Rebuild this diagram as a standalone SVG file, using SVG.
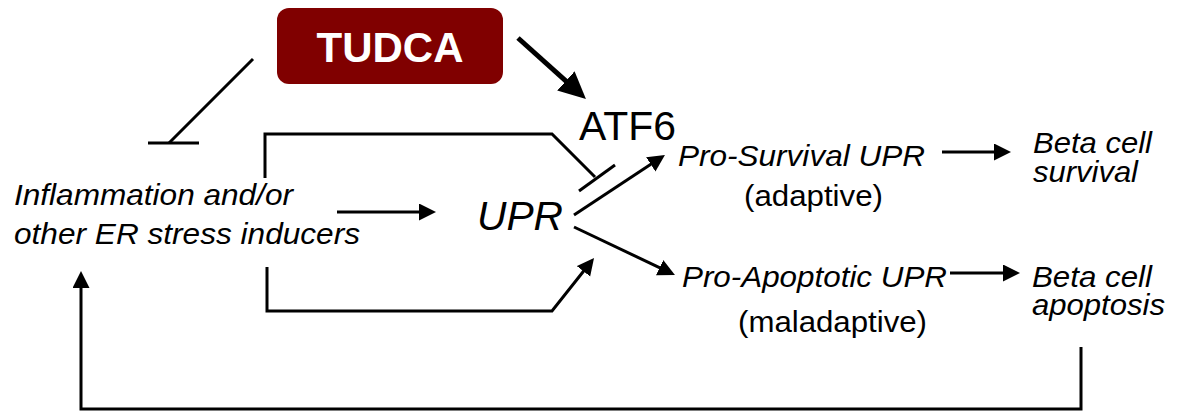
<svg xmlns="http://www.w3.org/2000/svg" width="1183" height="414" viewBox="0 0 1183 414">
<style>
text{font-family:"Liberation Sans",Arial,sans-serif;fill:#000}
.it{font-style:italic;font-size:29px}
.rg{font-size:29px}
.big{font-size:40px}
.ln{fill:none;stroke:#000;stroke-width:3;stroke-linejoin:miter}
.arr{marker-end:url(#ah)}
</style>
<defs>
<marker id="ah" markerUnits="userSpaceOnUse" markerWidth="18" markerHeight="18" refX="1" refY="8.5" orient="auto">
<path d="M0,0 L17,8.5 L0,17 z" fill="#000"/>
</marker>
<marker id="ahBig" markerUnits="userSpaceOnUse" markerWidth="28" markerHeight="28" refX="1" refY="13" orient="auto">
<path d="M0,0 L27,13 L0,26 z" fill="#000"/>
</marker>
</defs>
<rect width="1183" height="414" fill="#fff"/>
<g id="connectors">
<path class="ln" style="stroke-width:5;marker-end:url(#ahBig)" d="M518,38 L566.6,81.6"/>
<path class="ln" d="M253,59 L169,143"/>
<path class="ln" d="M148,143 L199,143"/>
<path class="ln" d="M265,178 L265,134 L552,134 L595,177"/>
<path class="ln" d="M579,191 L615,165"/>
<path class="ln arr" d="M337,212 L420,212"/>
<path class="ln arr" d="M574,215 L651.6,163.8"/>
<path class="ln arr" d="M574,227 L660.5,268.1"/>
<path class="ln arr" d="M267,267 L267,311 L552,311 L584.1,270.5"/>
<path class="ln arr" d="M942,152 L995,152"/>
<path class="ln arr" d="M950,273 L1004,273"/>
<path class="ln arr" d="M1081,347 L1081,409 L81,409 L81,287"/>
</g>
<g id="tudca">
<rect x="277" y="8" width="226" height="76" rx="12" ry="12" fill="#800000"/>
<text x="390" y="62" text-anchor="middle" style="font-size:42px;font-weight:bold;fill:#fff">TUDCA</text>
</g>
<g id="inflammation">
<text class="it" x="14" y="205" textLength="279" lengthAdjust="spacingAndGlyphs">Inflammation and/or</text>
<text class="it" x="14" y="244" textLength="346" lengthAdjust="spacingAndGlyphs">other ER stress inducers</text>
</g>
<g id="upr">
<text class="big" x="477" y="230" style="font-style:italic" textLength="86" lengthAdjust="spacingAndGlyphs">UPR</text>
</g>
<g id="atf6">
<text class="big" x="579" y="140" textLength="97" lengthAdjust="spacingAndGlyphs">ATF6</text>
</g>
<g id="pro-survival">
<text class="it" x="678" y="166" textLength="247" lengthAdjust="spacingAndGlyphs">Pro-Survival UPR</text>
<text class="rg" x="744" y="206" textLength="139" lengthAdjust="spacingAndGlyphs">(adaptive)</text>
</g>
<g id="pro-apoptotic">
<text class="it" x="682" y="287" textLength="265" lengthAdjust="spacingAndGlyphs">Pro-Apoptotic UPR</text>
<text class="rg" x="738" y="332" textLength="189" lengthAdjust="spacingAndGlyphs">(maladaptive)</text>
</g>
<g id="beta-survival">
<text class="it" x="1033" y="153" textLength="119" lengthAdjust="spacingAndGlyphs">Beta cell</text>
<text class="it" x="1033" y="182" textLength="105" lengthAdjust="spacingAndGlyphs">survival</text>
</g>
<g id="beta-apoptosis">
<text class="it" x="1032" y="287" textLength="120" lengthAdjust="spacingAndGlyphs">Beta cell</text>
<text class="it" x="1032" y="315" textLength="133" lengthAdjust="spacingAndGlyphs">apoptosis</text>
</g>
</svg>
